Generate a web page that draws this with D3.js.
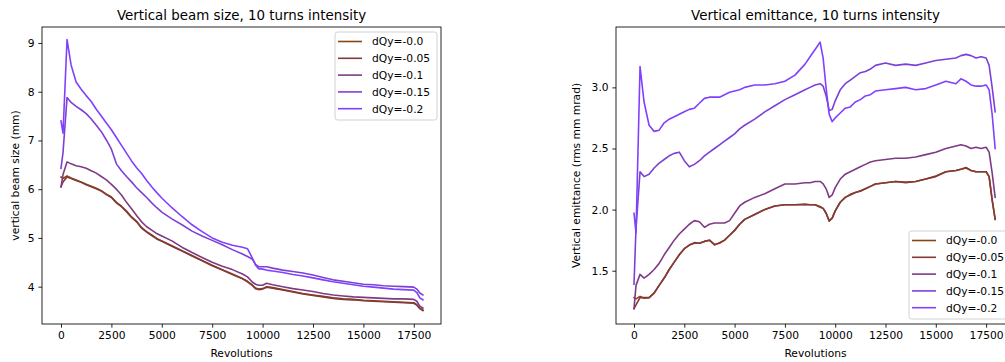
<!DOCTYPE html>
<html>
<head>
<meta charset="utf-8">
<script src="https://cdn.jsdelivr.net/npm/d3@7"></script>
<style>
  body { margin: 0; background: #fff; }
  svg { display: block; font-family: "DejaVu Sans", sans-serif; }
</style>
</head>
<body>
<svg id="chart" width="1005" height="362"></svg>
<script>
// ---- series names and colours ----
const seriesLabels = ["dQy=-0.0", "dQy=-0.05", "dQy=-0.1", "dQy=-0.15", "dQy=-0.2"];
const seriesColors = ["#8b4513", "#843a3a", "#7f3a86", "#7d40d6", "#8040ff"];

// ---- tick labels ----
const revTicks = [0, 2500, 5000, 7500, 10000, 12500, 15000, 17500];
const sizeTicks = [4, 5, 6, 7, 8, 9];
const emitTicks = [1.5, 2.0, 2.5, 3.0];

// ---- vertical beam size (mm) vs revolutions ----
const sizeRevs = [0, 100, 300, 500, 750, 1000, 1250, 1500, 1750, 2000,
  2250, 2500, 2750, 3000, 3250, 3500, 3750, 4000, 4250, 4500,
  4750, 5000, 5500, 6000, 6500, 7000, 7500, 8000, 8500, 9000,
  9250, 9500, 9650, 9800, 10000, 10200, 10500, 11000, 11500, 12000,
  12500, 13000, 13500, 14000, 14500, 15000, 15500, 16000, 16500, 17000,
  17500, 17650, 17800, 17950];
const size00 = [6.25, 6.22, 6.27, 6.23, 6.19, 6.15, 6.10, 6.06, 6.02, 5.97,
  5.90, 5.84, 5.73, 5.65, 5.55, 5.43, 5.34, 5.21, 5.13, 5.06,
  4.99, 4.94, 4.84, 4.74, 4.64, 4.54, 4.44, 4.35, 4.26, 4.17,
  4.11, 4.03, 3.97, 3.95, 3.96, 4.00, 3.98, 3.94, 3.90, 3.86,
  3.83, 3.80, 3.77, 3.75, 3.74, 3.72, 3.71, 3.70, 3.69, 3.68,
  3.67, 3.63, 3.56, 3.52];
const size05 = [6.05, 6.15, 6.25, 6.22, 6.18, 6.14, 6.09, 6.05, 6.01, 5.96,
  5.89, 5.83, 5.72, 5.64, 5.54, 5.42, 5.33, 5.20, 5.12, 5.05,
  4.98, 4.93, 4.83, 4.73, 4.63, 4.53, 4.43, 4.34, 4.25, 4.16,
  4.10, 4.02, 3.96, 3.94, 3.95, 3.99, 3.97, 3.93, 3.89, 3.85,
  3.82, 3.79, 3.76, 3.74, 3.73, 3.71, 3.70, 3.69, 3.68, 3.67,
  3.66, 3.62, 3.55, 3.51];
const size10 = [6.05, 6.30, 6.56, 6.52, 6.48, 6.46, 6.43, 6.38, 6.33, 6.26,
  6.19, 6.10, 6.00, 5.88, 5.73, 5.60, 5.46, 5.33, 5.23, 5.16,
  5.09, 5.04, 4.94, 4.81, 4.70, 4.60, 4.50, 4.42, 4.35, 4.26,
  4.20, 4.09, 4.05, 4.03, 4.03, 4.07, 4.04, 4.00, 3.96, 3.93,
  3.90, 3.86, 3.83, 3.81, 3.79, 3.78, 3.77, 3.76, 3.75, 3.75,
  3.74, 3.70, 3.60, 3.56];
const size15 = [6.43, 6.75, 7.88, 7.78, 7.70, 7.63, 7.55, 7.44, 7.31, 7.18,
  7.01, 6.82, 6.52, 6.38, 6.26, 6.15, 6.03, 5.93, 5.83, 5.72,
  5.62, 5.53, 5.39, 5.27, 5.14, 5.04, 4.95, 4.86, 4.76, 4.67,
  4.62, 4.56, 4.46, 4.41, 4.41, 4.41, 4.38, 4.34, 4.31, 4.28,
  4.24, 4.19, 4.14, 4.11, 4.08, 4.05, 4.04, 4.02, 4.01, 4.00,
  3.99, 3.95, 3.87, 3.83];
const size20 = [7.40, 7.15, 9.07, 8.55, 8.20, 8.05, 7.92, 7.80, 7.64, 7.50,
  7.36, 7.22, 7.06, 6.90, 6.74, 6.58, 6.44, 6.32, 6.18, 6.05,
  5.93, 5.82, 5.62, 5.44, 5.27, 5.13, 5.00, 4.91, 4.85, 4.81,
  4.78, 4.58, 4.44, 4.37, 4.36, 4.34, 4.32, 4.29, 4.25, 4.22,
  4.18, 4.14, 4.10, 4.07, 4.04, 4.01, 3.99, 3.97, 3.95, 3.94,
  3.93, 3.88, 3.77, 3.73];

// ---- vertical emittance (rms mm mrad) vs revolutions ----
const emitRevs = [0, 100, 300, 500, 750, 1000, 1250, 1500, 1750, 2000,
  2250, 2500, 2750, 3000, 3250, 3500, 3750, 4000, 4250, 4500,
  4750, 5000, 5250, 5500, 6000, 6500, 7000, 7500, 8000, 8500,
  8750, 9000, 9250, 9400, 9550, 9700, 9850, 10000, 10250, 10500,
  10750, 11000, 11250, 11500, 11750, 12000, 12500, 13000, 13500, 14000,
  14500, 15000, 15500, 16000, 16250, 16500, 16750, 17000, 17250, 17500,
  17650, 17800, 17950];
const emit00 = [1.28, 1.27, 1.29, 1.275, 1.28, 1.315, 1.38, 1.44, 1.51, 1.57,
  1.63, 1.68, 1.71, 1.725, 1.725, 1.74, 1.75, 1.715, 1.725, 1.75,
  1.79, 1.83, 1.88, 1.92, 1.96, 2.00, 2.03, 2.04, 2.04, 2.045,
  2.04, 2.04, 2.025, 2.01, 1.97, 1.905, 1.93, 1.99, 2.06, 2.10,
  2.125, 2.14, 2.155, 2.17, 2.19, 2.21, 2.22, 2.23, 2.225, 2.23,
  2.25, 2.275, 2.31, 2.32, 2.33, 2.345, 2.32, 2.31, 2.31, 2.31,
  2.27, 2.08, 1.92];
const emit05 = [1.19, 1.22, 1.28, 1.28, 1.28, 1.32, 1.38, 1.44, 1.51, 1.57,
  1.63, 1.68, 1.71, 1.73, 1.725, 1.74, 1.75, 1.71, 1.73, 1.75,
  1.79, 1.83, 1.88, 1.92, 1.96, 2.00, 2.03, 2.04, 2.04, 2.04,
  2.04, 2.04, 2.02, 2.01, 1.97, 1.91, 1.93, 1.99, 2.06, 2.10,
  2.12, 2.14, 2.15, 2.17, 2.19, 2.21, 2.22, 2.23, 2.22, 2.23,
  2.25, 2.27, 2.31, 2.32, 2.33, 2.34, 2.32, 2.31, 2.31, 2.31,
  2.27, 2.08, 1.92];
const emit10 = [1.19, 1.38, 1.47, 1.44, 1.47, 1.51, 1.56, 1.63, 1.69, 1.75,
  1.80, 1.84, 1.88, 1.91, 1.90, 1.855, 1.88, 1.89, 1.89, 1.89,
  1.91, 1.97, 2.03, 2.06, 2.10, 2.13, 2.17, 2.21, 2.21, 2.22,
  2.22, 2.23, 2.23, 2.21, 2.17, 2.10, 2.12, 2.18, 2.25, 2.29,
  2.31, 2.33, 2.35, 2.37, 2.39, 2.40, 2.41, 2.42, 2.42, 2.43,
  2.45, 2.47, 2.50, 2.52, 2.53, 2.52, 2.50, 2.51, 2.50, 2.51,
  2.47, 2.30, 2.10];
const emit15 = [1.39, 1.85, 2.31, 2.27, 2.29, 2.34, 2.38, 2.41, 2.44, 2.46,
  2.47, 2.40, 2.35, 2.37, 2.40, 2.44, 2.47, 2.50, 2.53, 2.56,
  2.59, 2.62, 2.66, 2.69, 2.74, 2.80, 2.85, 2.90, 2.94, 2.98,
  3.00, 3.02, 3.03, 3.01, 2.93, 2.81, 2.82, 2.89, 2.98, 3.03,
  3.06, 3.09, 3.12, 3.13, 3.15, 3.18, 3.20, 3.18, 3.19, 3.18,
  3.20, 3.22, 3.23, 3.24, 3.26, 3.27, 3.26, 3.24, 3.25, 3.24,
  3.18, 3.00, 2.80];
const emit20 = [1.97, 1.81, 3.17, 2.88, 2.69, 2.64, 2.65, 2.71, 2.74, 2.76,
  2.78, 2.80, 2.82, 2.83, 2.87, 2.91, 2.92, 2.92, 2.92, 2.94,
  2.96, 2.97, 2.98, 3.00, 3.02, 3.02, 3.03, 3.05, 3.10, 3.19,
  3.25, 3.31, 3.37, 3.24, 2.99, 2.78, 2.72, 2.75, 2.79, 2.83,
  2.84, 2.88, 2.90, 2.93, 2.94, 2.97, 2.98, 2.99, 3.00, 2.98,
  2.99, 3.02, 3.05, 3.03, 3.07, 3.05, 3.02, 3.01, 3.01, 3.02,
  2.98, 2.78, 2.50];

const svg = d3.select("#chart");
const FONT_TICK = 10.7, FONT_TITLE = 13.4;

function drawPanel(p) {
  const x = d3.scaleLinear().domain(p.xDomain).range([p.left, p.right]);
  const y = d3.scaleLinear().domain(p.yDomain).range([p.bottom, p.top]);
  const g = svg.append("g");

  // data lines
  const line = d3.line().x(d => x(d[0])).y(d => y(d[1]));
  p.series.forEach((vals, i) => {
    g.append("path")
      .datum(p.revs.map((r, k) => [r, vals[k]]))
      .attr("d", line)
      .attr("fill", "none")
      .attr("stroke", seriesColors[i])
      .attr("stroke-width", 1.6)
      .attr("stroke-linejoin", "round")
      .attr("stroke-linecap", "square");
  });

  // axes
  const xAxis = d3.axisBottom(x).tickValues(revTicks).tickFormat(d3.format("d"))
    .tickSizeInner(3.7).tickSizeOuter(0).tickPadding(3.7);
  const yAxis = d3.axisLeft(y).tickValues(p.yTicks).tickFormat(p.yFormat)
    .tickSizeInner(3.7).tickSizeOuter(0).tickPadding(3.7);
  const gx = g.append("g").attr("transform", `translate(0,${p.bottom})`).call(xAxis);
  const gy = g.append("g").attr("transform", `translate(${p.left},0)`).call(yAxis);
  [gx, gy].forEach(a => {
    a.select(".domain").remove();
    a.selectAll("line").attr("stroke", "#000").attr("stroke-width", 0.85);
    a.selectAll("text").attr("font-family", "DejaVu Sans").attr("font-size", FONT_TICK).attr("fill", "#000");
  });

  // frame
  g.append("rect")
    .attr("x", p.left).attr("y", p.top)
    .attr("width", p.right - p.left).attr("height", p.bottom - p.top)
    .attr("fill", "none").attr("stroke", "#000").attr("stroke-width", 0.85);

  // title and axis labels
  const cx = (p.left + p.right) / 2, cy = (p.top + p.bottom) / 2;
  g.append("text").attr("x", cx).attr("y", 19.5).attr("text-anchor", "middle")
    .attr("font-size", FONT_TITLE).text(p.title);
  g.append("text").attr("x", cx).attr("y", 356.5).attr("text-anchor", "middle")
    .attr("font-size", FONT_TICK).text("Revolutions");
  g.append("text").attr("transform", `translate(${p.ylabelX},${cy}) rotate(-90)`)
    .attr("text-anchor", "middle").attr("font-size", FONT_TICK).text(p.ylabel);

  // legend
  const L = p.legend;
  const lg = g.append("g");
  lg.append("rect").attr("x", L.x).attr("y", L.y).attr("width", 102).attr("height", 88)
    .attr("rx", 2.5).attr("fill", "#fff").attr("fill-opacity", 0.8)
    .attr("stroke", "#cccccc").attr("stroke-width", 0.9);
  seriesLabels.forEach((lab, i) => {
    const yy = L.y + 9.5 + i * 16.8;
    lg.append("line").attr("x1", L.x + 3).attr("x2", L.x + 27).attr("y1", yy).attr("y2", yy)
      .attr("stroke", seriesColors[i]).attr("stroke-width", 1.6);
    lg.append("text").attr("x", L.x + 37).attr("y", yy).attr("dy", "0.36em")
      .attr("font-size", FONT_TICK).text(lab);
  });
}

drawPanel({
  left: 42, right: 441, top: 27, bottom: 324,
  xDomain: [-942, 18849], yDomain: [3.234, 9.328],
  yTicks: sizeTicks, yFormat: d3.format("d"),
  revs: sizeRevs, series: [size00, size05, size10, size15, size20],
  title: "Vertical beam size, 10 turns intensity",
  ylabel: "vertical beam size (mm)", ylabelX: 18.5,
  legend: { x: 335, y: 32 }
});

drawPanel({
  left: 616, right: 1015, top: 27, bottom: 324,
  xDomain: [-895, 18936], yDomain: [1.064, 3.494],
  yTicks: emitTicks, yFormat: d3.format(".1f"),
  revs: emitRevs, series: [emit00, emit05, emit10, emit15, emit20],
  title: "Vertical emittance, 10 turns intensity",
  ylabel: "Vertical emittance (rms mm mrad)", ylabelX: 580,
  legend: { x: 909, y: 231 }
});
</script>
</body>
</html>
